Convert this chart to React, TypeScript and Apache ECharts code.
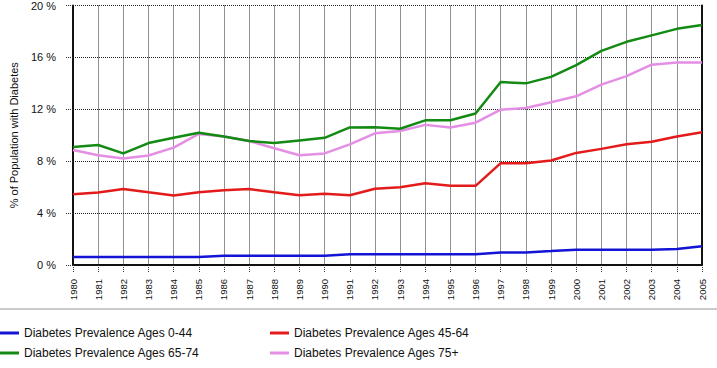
import React, { useEffect, useRef } from "react";
import * as echarts from "echarts";

const years = ["1980","1981","1982","1983","1984","1985","1986","1987","1988","1989","1990","1991","1992","1993","1994","1995","1996","1997","1998","1999","2000","2001","2002","2003","2004","2005"];
const ages0to44 = [0.62,0.62,0.62,0.62,0.62,0.62,0.72,0.72,0.72,0.72,0.72,0.82,0.82,0.82,0.82,0.82,0.82,0.97,0.97,1.07,1.18,1.18,1.18,1.18,1.23,1.44];
const ages45to64 = [5.46,5.59,5.85,5.6,5.36,5.6,5.77,5.85,5.6,5.38,5.49,5.38,5.88,6.0,6.3,6.1,6.1,7.85,7.85,8.05,8.64,8.95,9.3,9.5,9.9,10.23];
const ages65to74 = [9.1,9.25,8.6,9.4,9.8,10.2,9.9,9.55,9.4,9.6,9.8,10.6,10.62,10.5,11.15,11.15,11.67,14.1,14.0,14.5,15.4,16.5,17.2,17.7,18.2,18.5];
const ages75plus = [8.87,8.46,8.2,8.44,9.05,10.1,9.9,9.55,9.0,8.46,8.6,9.3,10.15,10.33,10.8,10.6,10.97,11.97,12.1,12.54,13.0,13.9,14.56,15.44,15.6,15.6];
const yTicks = [0, 4, 8, 12, 16, 20];
const seriesNames = ["Diabetes Prevalence Ages 0-44","Diabetes Prevalence Ages 45-64","Diabetes Prevalence Ages 65-74","Diabetes Prevalence Ages 75+"];
const seriesColors = ["#1414d6", "#e41b1b", "#138a13", "#e48ee4"];

export default function App() {
  const ref = useRef<HTMLDivElement>(null);
  useEffect(() => {
    if (!ref.current) return;
    const chart = echarts.init(ref.current, undefined, { renderer: "svg" });
    const font = "Arial, 'Liberation Sans', sans-serif";
    const dataSets = [ages0to44, ages45to64, ages65to74, ages75plus];
    const legendPos = [
      { left: 0, top: 327 },
      { left: 270, top: 327 },
      { left: 0, top: 347 },
      { left: 270, top: 347 },
    ];
    const drawOrder = [0, 1, 3, 2];
    chart.setOption({
      animation: false,
      backgroundColor: "#ffffff",
      grid: { left: 64, right: 15, top: 5, bottom: 103, containLabel: false },
      xAxis: {
        type: "category",
        data: years,
        boundaryGap: false,
        axisLine: { show: true, lineStyle: { color: "#111", width: 2 } },
        axisTick: { show: true, length: 7, lineStyle: { color: "#333", type: [1, 1] } },
        axisLabel: {
          rotate: 90,
          margin: 14,
          fontSize: 9.5,
          color: "#111",
          fontFamily: "'Liberation Sans Narrow', Arial, sans-serif",
        },
        splitLine: { show: true, lineStyle: { color: "#222", width: 1, type: [1, 1] } },
      },
      yAxis: [
        {
          type: "value",
          min: 0,
          max: 20,
          interval: 4,
          name: "% of Population with Diabetes",
          nameLocation: "middle",
          nameGap: 54,
          nameTextStyle: { fontSize: 11, color: "#111", fontFamily: font },
          axisLine: { show: true, lineStyle: { color: "#111", width: 2 } },
          axisTick: { show: true, length: 8, lineStyle: { color: "#333", type: [1, 1] } },
          axisLabel: {
            margin: 17,
            fontSize: 11,
            color: "#111",
            fontFamily: font,
            formatter: (v: number) => (yTicks.includes(v) ? `${v} %` : ""),
          },
          splitLine: { show: true, lineStyle: { color: "#222", width: 1, type: [1, 1] } },
        },
        {
          type: "value",
          min: 0,
          max: 20,
          interval: 4,
          position: "right",
          axisLine: { show: true, lineStyle: { color: "#111", width: 2 } },
          axisTick: { show: false },
          axisLabel: { show: false },
          splitLine: { show: false },
        },
      ],
      legend: seriesNames.map((n, i) => ({
        data: [{ name: n, icon: "rect" }],
        left: legendPos[i].left,
        top: legendPos[i].top,
        itemWidth: 19,
        itemHeight: 3,
        itemGap: 5,
        padding: 0,
        textStyle: { fontSize: 12, color: "#111", fontFamily: font },
      })),
      series: drawOrder.map((i) => ({
        name: seriesNames[i],
        type: "line",
        data: dataSets[i],
        symbol: "none",
        color: seriesColors[i],
        lineStyle: { width: 2.5, color: seriesColors[i] },
      })),
      graphic: [
        {
          type: "line",
          shape: { x1: 0, y1: 309, x2: 717, y2: 309 },
          style: { stroke: "#b8b8b8", lineWidth: 1.5 },
        },
      ],
    });
    return () => chart.dispose();
  }, []);
  return (
    <div
      ref={ref}
      style={{ position: "absolute", left: 0, top: 0, width: 717, height: 368, background: "#fff" }}
    />
  );
}
